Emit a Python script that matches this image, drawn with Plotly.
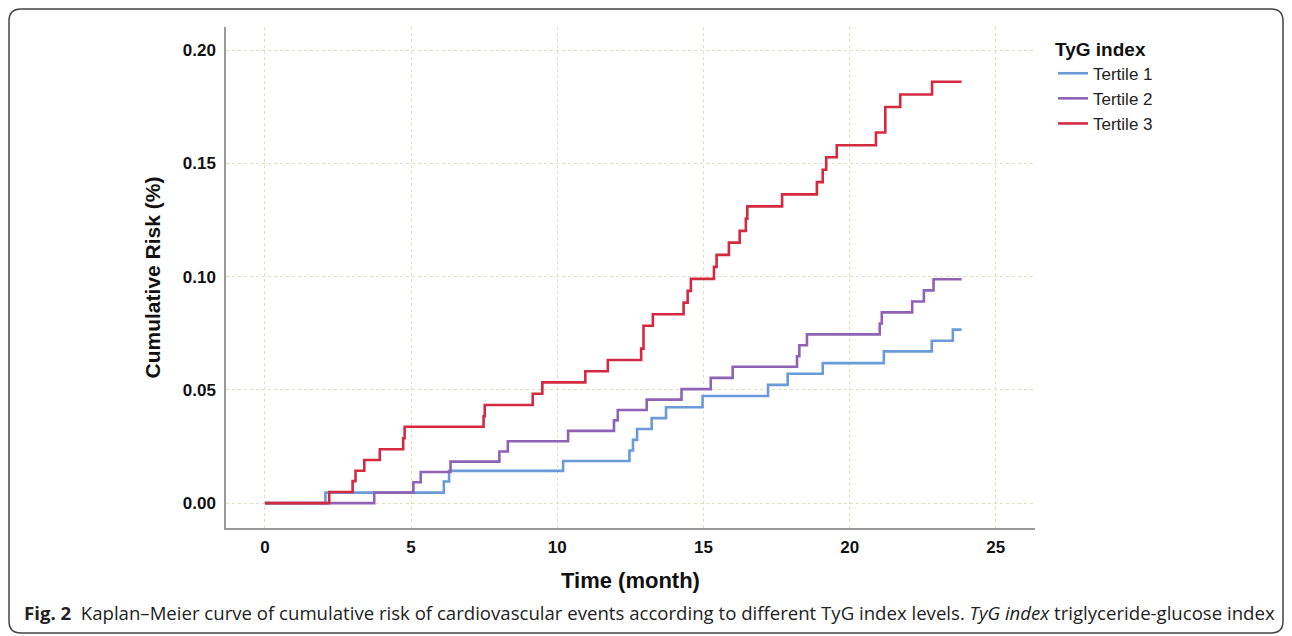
import plotly.graph_objects as go

# Tertile 1 (blue)
t1_time = [0, 2.07, 6.12, 6.3, 10.2, 12.47, 12.59, 12.73, 13.23, 13.72, 14.97, 17.21, 17.88, 19.08, 21.17, 22.81, 23.53, 23.83]
t1_risk = [0, 0.0046, 0.0095, 0.0142, 0.0186, 0.0232, 0.0279, 0.0327, 0.0375, 0.0423, 0.0473, 0.0522, 0.0571, 0.0618, 0.0670, 0.0717, 0.0766, 0.0766]

# Tertile 2 (purple)
t2_time = [0, 3.74, 5.08, 5.33, 6.35, 8.02, 8.31, 10.37, 11.94, 12.07, 13.06, 14.25, 15.25, 16.0, 18.2, 18.28, 18.54, 21.03, 21.1, 22.14, 22.54, 22.87, 23.83]
t2_risk = [0, 0.0046, 0.0092, 0.0137, 0.0183, 0.0228, 0.0273, 0.0319, 0.0365, 0.0411, 0.0457, 0.0503, 0.0553, 0.0602, 0.0648, 0.0697, 0.0745, 0.0793, 0.0842, 0.0890, 0.0939, 0.0988, 0.0988]

# Tertile 3 (red)
t3_time = [0, 2.2, 3.0, 3.1, 3.4, 3.93, 4.73, 4.78, 7.48, 7.52, 9.16, 9.49, 10.96, 11.73, 12.87, 12.95, 13.27, 14.32, 14.46, 14.57, 15.36, 15.45, 15.87, 16.24, 16.45, 16.5, 17.69, 18.88, 19.08, 19.2, 19.56, 20.9, 21.22, 21.73, 22.82, 23.83]
t3_risk = [0, 0.0049, 0.0097, 0.0143, 0.0190, 0.0238, 0.0286, 0.0337, 0.0383, 0.0433, 0.0483, 0.0533, 0.0582, 0.0632, 0.0682, 0.0783, 0.0834, 0.0885, 0.0937, 0.0990, 0.1043, 0.1096, 0.1150, 0.1202, 0.1256, 0.1310, 0.1363, 0.1417, 0.1472, 0.1527, 0.1580, 0.1636, 0.1749, 0.1804, 0.1860, 0.1860]

series_names = ["Tertile 1", "Tertile 2", "Tertile 3"]
series_colors = ["#6a9ad8", "#8e62b5", "#d42a40"]

x_ticks = [0, 5, 10, 15, 20, 25]
y_ticks = [0.00, 0.05, 0.10, 0.15, 0.20]
y_ticklabels = ["0.00", "0.05", "0.10", "0.15", "0.20"]

fig = go.Figure()
for name, tx, ry, col in zip(series_names, [t1_time, t2_time, t3_time], [t1_risk, t2_risk, t3_risk], series_colors):
    fig.add_trace(go.Scatter(x=tx, y=ry, mode="lines", name=name,
                             line=dict(color=col, width=2.6, shape="hv")))

grid_col = "#e3dec0"
W, H = 1284, 628
L, R, T, B = 218, 257, 19, 108
pw, ph = W - L - R, H - T - B


def px(xp):
    return (xp - L) / pw


def py(yp):
    return (H - B - yp) / ph


fig.update_layout(
    width=W, height=H,
    paper_bgcolor="white", plot_bgcolor="white",
    margin=dict(l=L, r=R, t=T, b=B),
    font=dict(family="Liberation Sans, Arial, sans-serif", color="#111"),
    legend=dict(
        x=px(1045), y=py(23), xanchor="left", yanchor="top",
        title=dict(text="<b>TyG index</b>", font=dict(size=19, color="#111")),
        font=dict(size=17, color="#222"),
        itemwidth=30, tracegroupgap=0,
        bgcolor="rgba(0,0,0,0)",
    ),
    xaxis=dict(
        range=[-1.33, 26.34], tickvals=x_ticks,
        showgrid=True, gridcolor=grid_col, griddash="dot", gridwidth=1,
        zeroline=False, showline=True, linecolor="#999", linewidth=1.5,
        ticks="outside", ticklen=3, tickcolor="rgba(0,0,0,0)",
        tickfont=dict(size=17, color="#111", family="Liberation Sans, Arial", weight="bold"),
        title=dict(text="<b>Time (month)</b>", font=dict(size=22, color="#111"), standoff=16),
        automargin=False,
    ),
    yaxis=dict(
        range=[-0.011, 0.2102], tickvals=y_ticks, ticktext=y_ticklabels,
        showgrid=True, gridcolor=grid_col, griddash="dot", gridwidth=1,
        zeroline=False, showline=True, linecolor="#999", linewidth=1.5,
        ticks="outside", ticklen=5, tickcolor="rgba(0,0,0,0)",
        tickfont=dict(size=17, color="#111", family="Liberation Sans, Arial", weight="bold"),
        title=dict(text="<b>Cumulative Risk (%)</b>", font=dict(size=21, color="#111"), standoff=16),
        automargin=False,
    ),
)

# Figure frame (rounded rectangle)
x0, x1, y0, y1, r = 1, 1275, 1, 625, 12
path = (f"M {px(x0 + r)} {py(y0)} L {px(x1 - r)} {py(y0)} "
        f"Q {px(x1)} {py(y0)} {px(x1)} {py(y0 + r)} "
        f"L {px(x1)} {py(y1 - r)} Q {px(x1)} {py(y1)} {px(x1 - r)} {py(y1)} "
        f"L {px(x0 + r)} {py(y1)} Q {px(x0)} {py(y1)} {px(x0)} {py(y1 - r)} "
        f"L {px(x0)} {py(y0 + r)} Q {px(x0)} {py(y0)} {px(x0 + r)} {py(y0)} Z")
fig.add_shape(type="path", xref="paper", yref="paper", path=path,
              line=dict(color="#444", width=1.5), layer="below")

# Caption
fig.add_annotation(
    xref="paper", yref="paper", x=px(14), y=py(604), xanchor="left", yanchor="middle",
    showarrow=False,
    text="<b>Fig. 2</b>  Kaplan–Meier curve of cumulative risk of cardiovascular events according to different TyG index levels. <i>TyG index</i> triglyceride-glucose index",
    font=dict(family="Open Sans, sans-serif", size=18.6, color="#222"),
)

fig.write_html("out.html")
